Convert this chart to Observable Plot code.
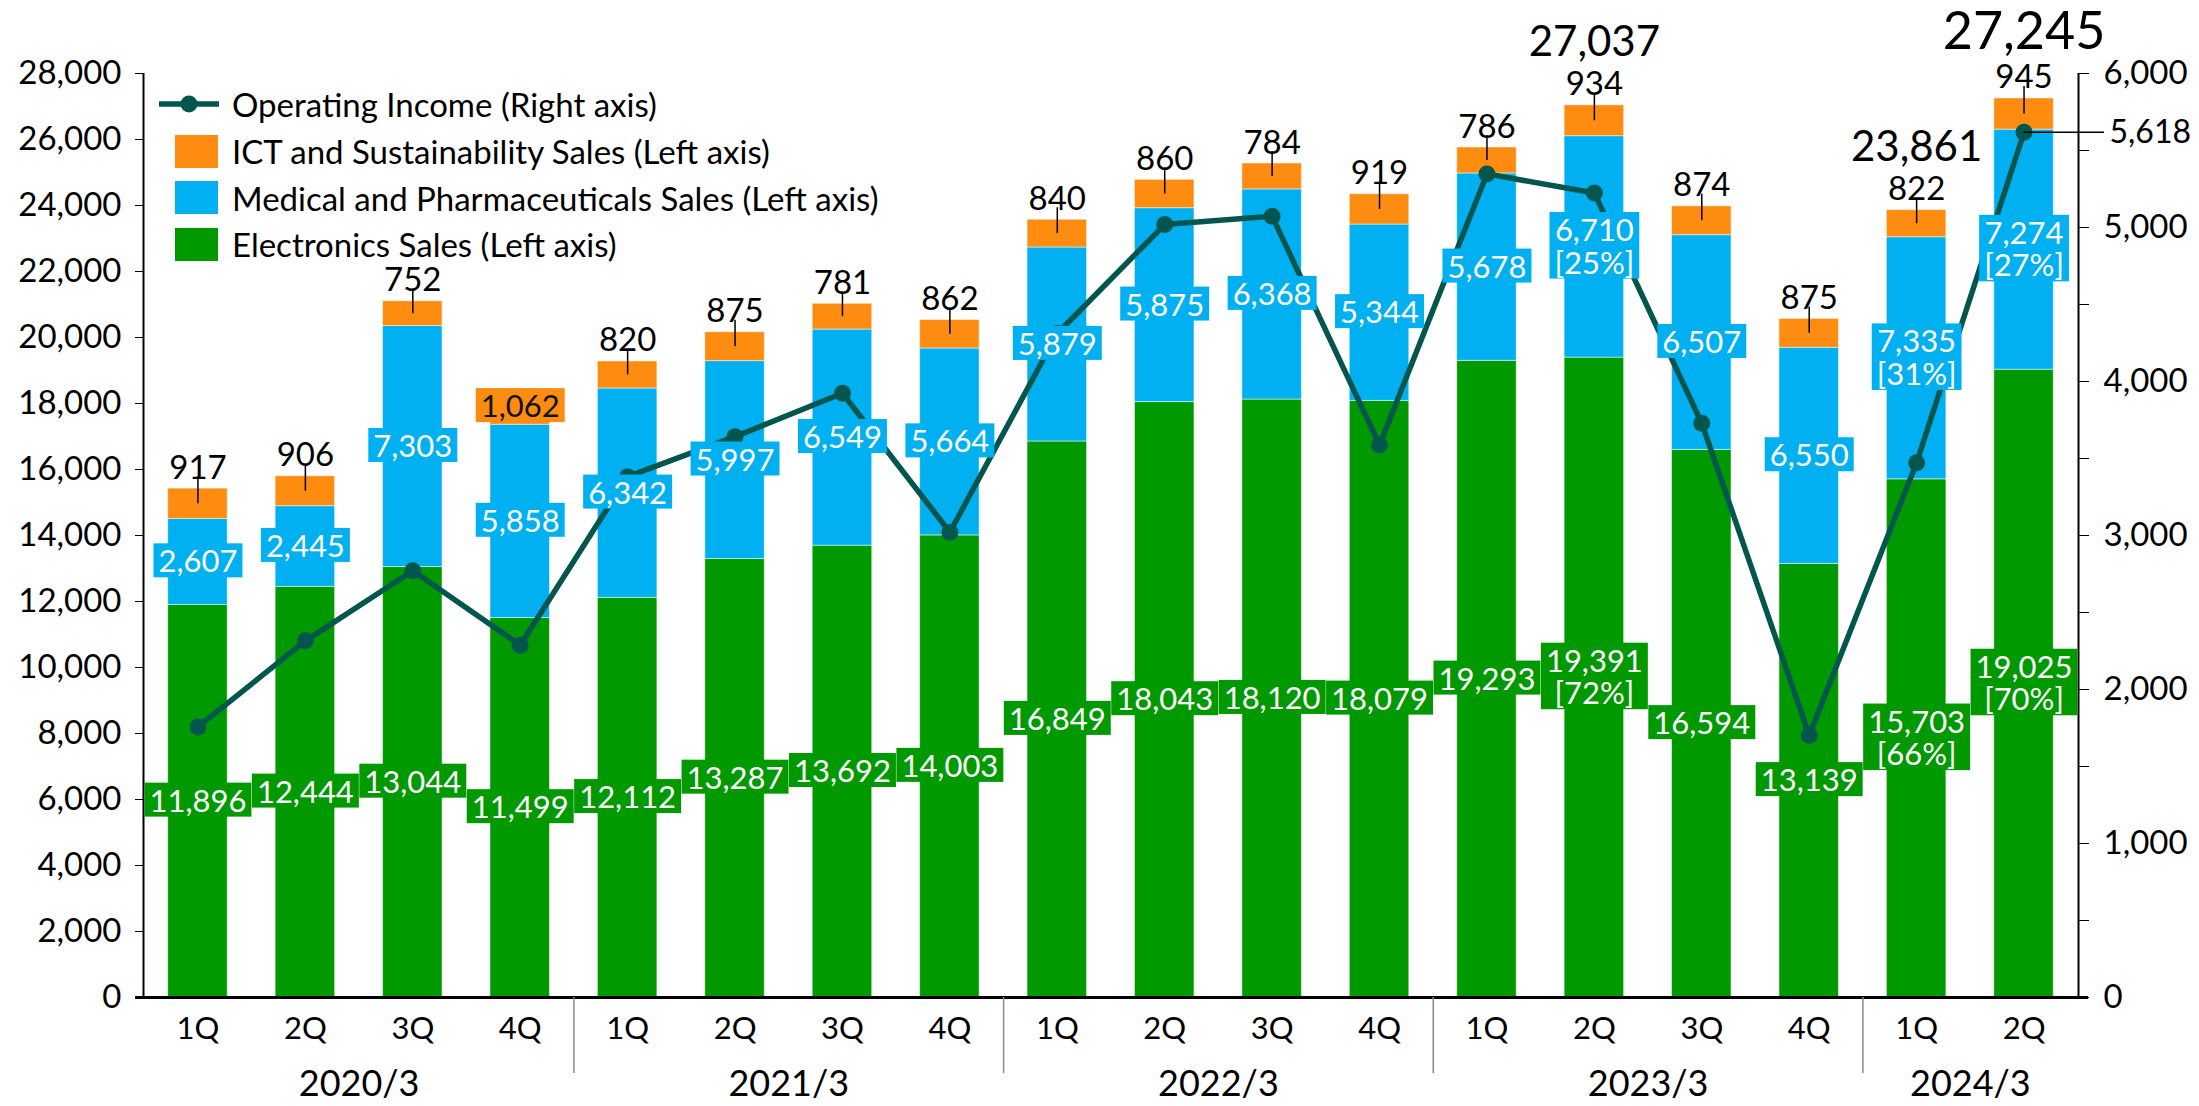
<!DOCTYPE html>
<html><head><meta charset="utf-8">
<script src="https://cdn.jsdelivr.net/npm/d3@7"></script>
<script src="https://cdn.jsdelivr.net/npm/@observablehq/plot@0.6"></script>
<style>
body{margin:0;background:#fff;font-family:Lato,"Noto Sans",sans-serif;}
#wrap{position:relative;width:2199px;height:1106px;}
#legend{position:absolute;left:158px;top:81px;font-size:33px;color:#000;}
.row{height:46.7px;display:flex;align-items:center;white-space:nowrap;}
.sym{width:74px;height:46px;position:relative;flex:none;}
.sw{position:absolute;left:17px;top:6.5px;width:43px;height:33px;}
.ln{position:absolute;left:0;top:13px;}
</style></head><body><div id="wrap"><div id="chart"></div><div id="legend"></div></div>
<script>
// ---- data ----
const quarters = ["1Q","2Q","3Q","4Q","1Q","2Q","3Q","4Q","1Q","2Q","3Q","4Q","1Q","2Q","3Q","4Q","1Q","2Q"];
const fiscalYears = ["2020/3","2021/3","2022/3","2023/3","2024/3"];
const quartersPerYear = [4,4,4,4,2];
const electronics = [11896,12444,13044,11499,12112,13287,13692,14003,16849,18043,18120,18079,19293,19391,16594,13139,15703,19025];
const medical = [2607,2445,7303,5858,6342,5997,6549,5664,5879,5875,6368,5344,5678,6710,6507,6550,7335,7274];
const ict = [917,906,752,1062,820,875,781,862,840,860,784,919,786,934,874,875,822,945];
const operatingIncome = [1757,2316,2771,2288,3382,3642,3924,3021,4312,5019,5073,3588,5348,5224,3729,1703,3473,5618];
const medicalShare = [null,null,null,null,null,null,null,null,null,null,null,null,null,"25%",null,null,"31%","27%"];
const electronicsShare = [null,null,null,null,null,null,null,null,null,null,null,null,null,"72%",null,null,"66%","70%"];
const totalLabels = [null,null,null,null,null,null,null,null,null,null,null,null,null,27037,null,null,23861,27245];
const ictInsideIdx = [3];
const leftTicks = d3.range(0, 28001, 2000);
const rightTicks = d3.range(0, 6001, 1000);
const rightMinorTicks = d3.range(500, 6000, 1000);
const seriesNames = ["Electronics Sales (Left axis)","Medical and Pharmaceuticals Sales (Left axis)","ICT and Sustainability Sales (Left axis)"];
const seriesColors = ["#009900","#00b0f0","#fd8c10"];
const lineName = "Operating Income (Right axis)";
const TEAL = "#03564e";

// ---- derived ----
const K = 28000 / 6000;
const HW = 0.277;
const xDomain = [-0.507, quarters.length - 1 + 0.507];
const fmt = d3.format(",");
const rows = quarters.map((q, i) => {
  const e = electronics[i], m = medical[i], c = ict[i];
  return {i, q, e, m, c, inc: operatingIncome[i], total: e + m + c, label: totalLabels[i]};
});
const segments = rows.flatMap(r => [
  {i: r.i, s: 0, y1: 0, y2: r.e},
  {i: r.i, s: 1, y1: r.e, y2: r.e + r.m},
  {i: r.i, s: 2, y1: r.e + r.m, y2: r.total}
]);
const starts = [];
quartersPerYear.reduce((a, n) => { starts.push(a); return a + n; }, 0);
const separators = starts.slice(1).map(s => s - 0.5);
const groupCenters = starts.map((s, j) => s + (quartersPerYear[j] - 1) / 2);
const outsideRows = rows.filter(r => !ictInsideIdx.includes(r.i));
const insideRows = rows.filter(r => ictInsideIdx.includes(r.i));
const totalRows = rows.filter(r => r.label != null);
const last = rows[rows.length - 1];

const chart = Plot.plot({
  width: 2199, height: 1106,
  marginTop: 73, marginBottom: 109, marginLeft: 143, marginRight: 121,
  x: {domain: xDomain, label: null},
  y: {domain: [0, 28000], label: null},
  color: {domain: seriesNames, range: seriesColors},
  style: {fontFamily: "Lato, 'Noto Sans', sans-serif", fontSize: "30px", color: "#000", background: "#fff"},
  marks: [
    Plot.rectY(segments, {x1: d => d.i - HW, x2: d => d.i + HW, y1: "y1", y2: "y2", fill: d => seriesNames[d.s], stroke: "#fff", strokeOpacity: 0.5, strokeWidth: 1}),
    Plot.ruleX(xDomain, {stroke: "#000", strokeWidth: 2}),
    Plot.ruleY([0], {stroke: "#000", strokeWidth: 3, insetLeft: -8, insetRight: -10}),
    Plot.ruleX(separators, {y1: 0, stroke: "#8c8c8c", strokeWidth: 1.5, insetBottom: -76}),
    Plot.axisY({anchor: "left", ticks: leftTicks, tickFormat: fmt, tickSize: 8, tickPadding: 14, fontSize: 33, label: null}),
    Plot.axisY({anchor: "right", ticks: rightTicks.map(v => v * K), tickFormat: v => fmt(Math.round(v / K)), tickSize: 10, tickPadding: 15, fontSize: 33, label: null}),
    Plot.axisY({anchor: "right", ticks: rightMinorTicks.map(v => v * K), tickFormat: () => "", tickSize: 10, label: null}),
    Plot.axisX({ticks: d3.range(quarters.length), tickFormat: i => quarters[i], tickSize: 0, tickPadding: 19, fontSize: 31, label: null}),
    Plot.text(fiscalYears, {x: (d, j) => groupCenters[j], frameAnchor: "bottom", dy: 98, text: d => d, fontSize: 36}),
    Plot.ruleX(outsideRows, {x: "i", y1: "total", y2: d => d.total - d.c / 2, insetTop: -12, stroke: "#000", strokeWidth: 1.5}),
    Plot.line(rows, {x: "i", y: d => d.inc * K, stroke: TEAL, strokeWidth: 5.5}),
    Plot.dot(rows, {x: "i", y: d => d.inc * K, r: 8.5, fill: TEAL}),
    Plot.ruleY([last], {y: d => d.inc * K, x1: "i", x2: () => xDomain[1], insetRight: -26, stroke: "#000", strokeWidth: 1.5}),
    Plot.text([last], {x: () => xDomain[1], y: d => d.inc * K, text: d => fmt(d.inc), textAnchor: "start", dx: 31, fontSize: 32}),
    Plot.text(outsideRows, {x: "i", y: "total", text: d => fmt(d.c), lineAnchor: "bottom", dy: -10, fontSize: 33}),
    Plot.text(insideRows, {x: "i", y: d => d.total - d.c / 2, text: d => fmt(d.c), fill: "#111", fontSize: 31, ariaDescription: "ict-labels"}),
    Plot.text(rows, {x: "i", y: d => d.e + d.m / 2, text: d => fmt(d.m) + (medicalShare[d.i] ? "\n[" + medicalShare[d.i] + "]" : ""), fill: "#fff", fontSize: 31, lineHeight: 1.05, ariaDescription: "medical-labels"}),
    Plot.text(rows, {x: "i", y: d => d.e / 2, text: d => fmt(d.e) + (electronicsShare[d.i] ? "\n[" + electronicsShare[d.i] + "]" : ""), fill: "#fff", fontSize: 31, lineHeight: 1.05, ariaDescription: "electronics-labels"}),
    Plot.text(totalRows, {x: "i", y: "total", text: d => fmt(d.label), lineAnchor: "bottom", dy: -49, fontSize: d => d.i === last.i ? 52 : 42})
  ]
});
document.getElementById("chart").append(chart);

// label boxes behind value labels
const boxFill = {"medical-labels": seriesColors[1], "electronics-labels": seriesColors[0], "ict-labels": seriesColors[2]};
for (const [name, color] of Object.entries(boxFill)) {
  chart.querySelectorAll(`g[aria-description="${name}"] text`).forEach(t => {
    const b = t.getBBox();
    const r = document.createElementNS("http://www.w3.org/2000/svg", "rect");
    r.setAttribute("x", b.x - 5);
    r.setAttribute("y", b.y + 2);
    r.setAttribute("width", b.width + 10);
    r.setAttribute("height", b.height - 4);
    r.setAttribute("fill", color);
    r.setAttribute("stroke", "none");
    const tr = t.getAttribute("transform");
    if (tr) r.setAttribute("transform", tr);
    t.parentNode.insertBefore(r, t);
  });
}

// legend
const legend = document.getElementById("legend");
const items = [{name: lineName, line: true}, {name: seriesNames[2], color: seriesColors[2]}, {name: seriesNames[1], color: seriesColors[1]}, {name: seriesNames[0], color: seriesColors[0]}];
for (const it of items) {
  const row = document.createElement("div");
  row.className = "row";
  const sym = document.createElement("div");
  sym.className = "sym";
  if (it.line) {
    sym.innerHTML = `<svg class="ln" width="62" height="20"><line x1="1" y1="10" x2="61" y2="10" stroke="${TEAL}" stroke-width="5.5"/><circle cx="31" cy="10" r="8.5" fill="${TEAL}"/></svg>`;
  } else {
    const sw = document.createElement("div");
    sw.className = "sw";
    sw.style.background = it.color;
    sym.append(sw);
  }
  const tx = document.createElement("span");
  tx.textContent = it.name;
  row.append(sym, tx);
  legend.append(row);
}
</script></body></html>
